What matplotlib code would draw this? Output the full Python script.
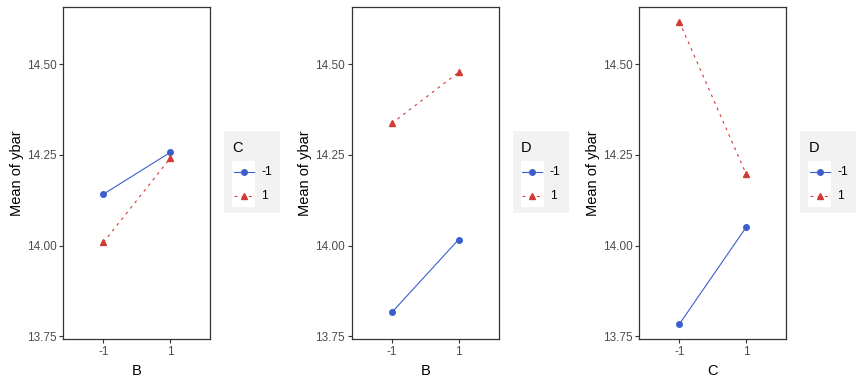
"""Interaction plots: mean of ybar by factor levels, three panels with side legends."""

import matplotlib
matplotlib.use("Agg")
import matplotlib.pyplot as plt
from matplotlib.patches import Rectangle

plt.rcParams["font.family"] = ["Liberation Sans", "DejaVu Sans"]

LEVELS = ["-1", "1"]

# panel 1: x = B, trace = C
P1_LOW = [14.142, 14.257]   # C = -1
P1_HIGH = [14.009, 14.241]  # C = 1
# panel 2: x = B, trace = D
P2_LOW = [13.816, 14.017]   # D = -1
P2_HIGH = [14.337, 14.478]  # D = 1
# panel 3: x = C, trace = D
P3_LOW = [13.784, 14.051]   # D = -1
P3_HIGH = [14.617, 14.197]  # D = 1

PANELS = [
    ("B", "C", P1_LOW, P1_HIGH),
    ("B", "D", P2_LOW, P2_HIGH),
    ("C", "D", P3_LOW, P3_HIGH),
]

Y_TICKS = [13.75, 14.00, 14.25, 14.50]

BLUE = "#3A5FCD"
RED = "#D43A34"
INK = "#333333"
TICK_INK = "#4D4D4D"
LEGEND_BG = "#F2F2F2"
DASH = (0, (2.5, 4))

W, H = 864, 384
AX_LEFTS = [63.3, 351.7, 639.3]
AX_W = 147.0
AX_TOP, AX_BOT = 7.3, 339.3
LEG_OFFSET = 14.0
LEG_W, LEG_H = 56.0, 82.0
LEG_TOP = 131.0


def draw_legend(fig, left_px, title):
    lax = fig.add_axes([left_px / W, (H - LEG_TOP - LEG_H) / H, LEG_W / W, LEG_H / H])
    lax.set_xlim(0, LEG_W)
    lax.set_ylim(LEG_H, 0)
    lax.set_facecolor(LEGEND_BG)
    for s in lax.spines.values():
        s.set_visible(False)
    lax.set_xticks([])
    lax.set_yticks([])
    lax.text(8, 17, title, fontsize=10.5, color="black", va="center", ha="left")
    lax.add_patch(Rectangle((8, 30), 23, 46, facecolor="white", edgecolor="none"))
    lax.plot([9.5, 29.5], [41.3, 41.3], color=BLUE, lw=0.8, zorder=3)
    lax.plot([19.5], [41.3], "o", color=BLUE, markersize=4, zorder=4)
    lax.plot([9.5, 29.5], [65, 65], color=RED, lw=0.8, linestyle=DASH, zorder=3)
    lax.plot([19.5], [65], "^", color=RED, markersize=4.5, zorder=4)
    lax.text(37, 41.3, LEVELS[0], fontsize=8.8, color="black", va="center", ha="left")
    lax.text(37, 65, LEVELS[1], fontsize=8.8, color="black", va="center", ha="left")


def main():
    fig = plt.figure(figsize=(W / 100, H / 100), dpi=100)
    fig.patch.set_facecolor("white")

    for left_px, (xname, trace, low, high) in zip(AX_LEFTS, PANELS):
        ax = fig.add_axes([left_px / W, (H - AX_BOT) / H, AX_W / W, (AX_BOT - AX_TOP) / H])
        x = range(len(LEVELS))
        ax.plot(x, low, color=BLUE, lw=0.8, marker="o", markersize=4)
        ax.plot(x, high, color=RED, lw=0.8, linestyle=DASH,
                marker="^", markersize=4.5)

        ax.set_xlim(-0.6, 1.6)
        ax.set_ylim(13.742, 14.657)
        ax.set_xticks(list(x))
        ax.set_xticklabels(LEVELS)
        ax.set_yticks(Y_TICKS)
        ax.set_yticklabels([f"{v:.2f}" for v in Y_TICKS])
        ax.tick_params(axis="both", length=3, width=0.8, color=INK,
                       labelsize=8.5, labelcolor=TICK_INK, pad=2)
        for s in ax.spines.values():
            s.set_color(INK)
            s.set_linewidth(0.9)

        ax.set_xlabel(xname, fontsize=10.5, color="black", labelpad=4)
        ax.set_ylabel("Mean of ybar", fontsize=10.5, color="black", labelpad=2)

        draw_legend(fig, left_px + AX_W + LEG_OFFSET, trace)

    fig.savefig("out.png", dpi=100, facecolor="white")


if __name__ == "__main__":
    main()
